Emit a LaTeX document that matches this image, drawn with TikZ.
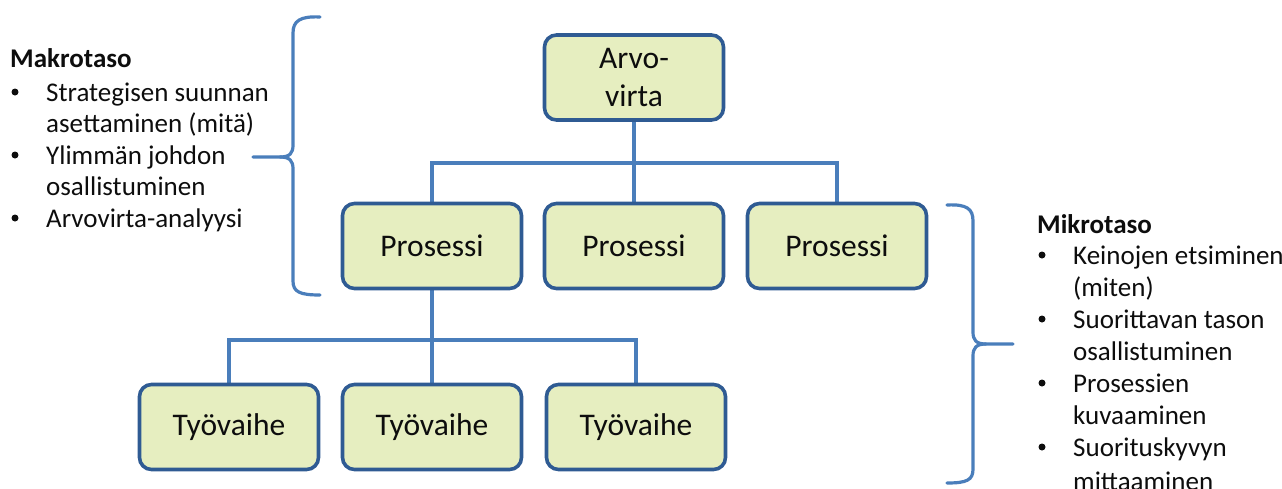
\documentclass[tikz,border=0pt]{standalone}
\usepackage{fontspec}
\setmainfont{Carlito}
\usetikzlibrary{backgrounds}
\definecolor{boxfill}{HTML}{E6EEC0}
\definecolor{boxline}{HTML}{2F5B93}
\definecolor{conn}{HTML}{4A7EBB}
\definecolor{ink}{HTML}{0D0D0D}
\tikzset{
  stepbox/.style={draw=boxline, fill=boxfill, line width=3.6pt, rounded corners=12pt,
    minimum width=179pt, minimum height=85pt, inner sep=0pt, align=center,
    text=ink, font=\fontsize{31.5}{38}\selectfont},
  wire/.style={draw=conn, line width=3.3pt},
  brace/.style={draw=conn, line width=3.2pt, line cap=round},
  txt/.style={anchor=base west, inner sep=0pt, text=ink, font=\fontsize{27}{32}\selectfont},
  bul/.style={circle, fill=ink, inner sep=0pt, minimum size=7pt},
}
\begin{document}
\begin{tikzpicture}[x=1pt,y=-1pt]
\useasboundingbox (0,0) rectangle (1282,488);
% boxes
\node[stepbox] (av) at (634,77.5) {Arvo-\\virta};
\node[stepbox] (p1) at (432,246) {Prosessi};
\node[stepbox] (p2) at (634,246) {Prosessi};
\node[stepbox] (p3) at (837,246) {Prosessi};
\node[stepbox] (t1) at (229,427) {Työvaihe};
\node[stepbox] (t2) at (432,427) {Työvaihe};
\node[stepbox] (t3) at (636,427) {Työvaihe};
% connectors
\coordinate (b1) at (634,163);
\coordinate (b2) at (432,340);
\begin{scope}[on background layer]
\draw[wire] (av.south) -- (p2.north);
\draw[wire] (p1.north) |- (b1) -| (p3.north);
\draw[wire] (p1.south) -- (t2.north);
\draw[wire] (t1.north) |- (b2) -| (t3.north);
\end{scope}
% left brace
\draw[brace] (320,17) .. controls (300,16) and (293,21) .. (293,33) -- (293,145)
  .. controls (293,153) and (290,157) .. (280,157) -- (253,157);
\draw[brace] (280,157) .. controls (290,157) and (293,161) .. (293,169) -- (293,281)
  .. controls (293,292) and (300,295) .. (320,295);
% right brace
\draw[brace] (947,205) .. controls (967,204) and (973,209) .. (973,221) -- (973,332)
  .. controls (973,340) and (976,344) .. (986,344) -- (1013,344);
\draw[brace] (986,344) .. controls (976,344) and (973,348) .. (973,356) -- (973,469)
  .. controls (973,480) and (967,483) .. (947,483);
% left text
\node[txt] (mk) at (10,67) {\bfseries Makrotaso};
\node[bul] (lb1) at (15,92) {};
\node[txt] (l1a) at (46,101) {Strategisen suunnan};
\node[txt] (l1b) at (46,132.5) {asettaminen (mitä)};
\node[bul] (lb2) at (15,155) {};
\node[txt] (l2a) at (46,164) {Ylimmän johdon};
\node[txt] (l2b) at (46,195.5) {osallistuminen};
\node[bul] (lb3) at (15,218) {};
\node[txt] (l3a) at (46,227) {Arvovirta-analyysi};
% right text
\node[txt] (mi) at (1037,233) {\bfseries Mikrotaso};
\node[bul] (rb1) at (1042,255) {};
\node[txt] (r1a) at (1073,264) {Keinojen etsiminen};
\node[txt] (r1b) at (1073,296) {(miten)};
\node[bul] (rb2) at (1042,319) {};
\node[txt] (r2a) at (1073,328) {Suorittavan tason};
\node[txt] (r2b) at (1073,360) {osallistuminen};
\node[bul] (rb3) at (1042,383) {};
\node[txt] (r3a) at (1073,392) {Prosessien};
\node[txt] (r3b) at (1073,424) {kuvaaminen};
\node[bul] (rb4) at (1042,447) {};
\node[txt] (r4a) at (1073,456) {Suorituskyvyn};
\node[txt] (r4b) at (1073,490) {mittaaminen};
\end{tikzpicture}
\end{document}
